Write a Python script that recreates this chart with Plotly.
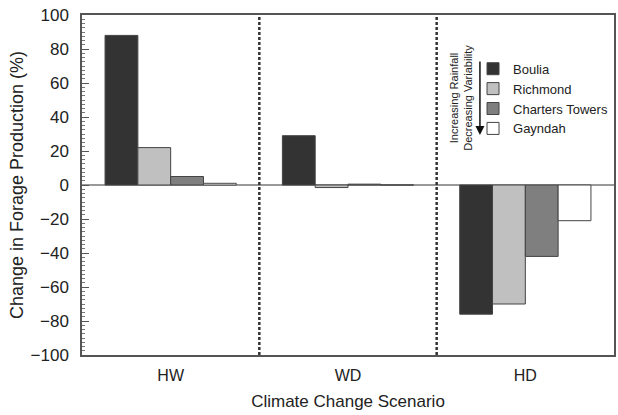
import plotly.graph_objects as go

scenarios = ["HW", "WD", "HD"]
sites = ["Boulia", "Richmond", "Charters Towers", "Gayndah"]
boulia = [88, 29, -76]
richmond = [22, -1.5, -70]
charters = [5, 0.5, -42]
gayndah = [1, 0, -21]
series_values = [boulia, richmond, charters, gayndah]
fill_colors = ["#333333", "#c0c0c0", "#7f7f7f", "#ffffff"]

FONT = "Liberation Sans, Arial, sans-serif"
TXT = "#222222"

fig = go.Figure()
for name, vals, col in zip(sites, series_values, fill_colors):
    fig.add_trace(go.Bar(
        x=scenarios, y=vals, name=name,
        marker=dict(color=col, line=dict(color="#444444", width=1)),
    ))

# dotted separators between scenarios
for xpos in [0.5, 1.5]:
    fig.add_shape(type="line", xref="x", yref="paper", x0=xpos, x1=xpos, y0=0, y1=1,
                  line=dict(color="#333333", width=2.5, dash="3px,2px"))

# rotated note and arrow
fig.add_annotation(xref="paper", yref="paper", x=0.712, y=0.756,
                   xanchor="center", yanchor="middle",
                   text="Increasing Rainfall<br>Decreasing Variability",
                   textangle=-90, showarrow=False, align="center",
                   font=dict(family=FONT, size=11, color=TXT))
fig.add_annotation(xref="paper", yref="paper", x=0.748, y=0.647, text="",
                   showarrow=True, ax=0, ay=-75, arrowhead=2, arrowsize=1.2,
                   arrowwidth=1.5, arrowcolor="#111111")

fig.update_layout(
    width=618, height=415,
    margin=dict(l=82, r=4, t=15, b=60, autoexpand=False),
    paper_bgcolor="white", plot_bgcolor="white",
    barmode="group", bargap=0.26, bargroupgap=0,
    font=dict(family=FONT, size=16, color=TXT),
    legend=dict(x=0.735, y=0.886, xanchor="left", yanchor="top",
                font=dict(family=FONT, size=13, color=TXT),
                bgcolor="rgba(0,0,0,0)", borderwidth=0),
    showlegend=True,
)
fig.update_xaxes(
    range=[-0.5, 2.5], showline=True, mirror=True, linecolor="#555555", linewidth=1.5,
    ticks="", showgrid=False, tickfont=dict(size=16, color=TXT), ticklabelstandoff=5,
    automargin=False,
    title=dict(text="Climate Change Scenario", font=dict(size=17, color=TXT), standoff=12),
)
fig.update_yaxes(
    range=[-100, 100], dtick=20, showline=True, mirror=True, linecolor="#555555", linewidth=1.5,
    ticks="inside", ticklen=7, tickcolor="#555555", tickwidth=1,
    minor=dict(dtick=2.5, ticks="inside", ticklen=3, tickcolor="#777777", tickwidth=1),
    showgrid=False, zeroline=True, zerolinecolor="#999999", zerolinewidth=1.5,
    tickfont=dict(size=17, color=TXT), ticklabelstandoff=8, automargin=False,
    title=dict(text="Change in Forage Production (%)", font=dict(size=18, color=TXT), standoff=2),
)

fig.write_html("out.html", config={"displayModeBar": False},
               post_script="document.body.style.margin='0';document.body.style.overflow='hidden';")
